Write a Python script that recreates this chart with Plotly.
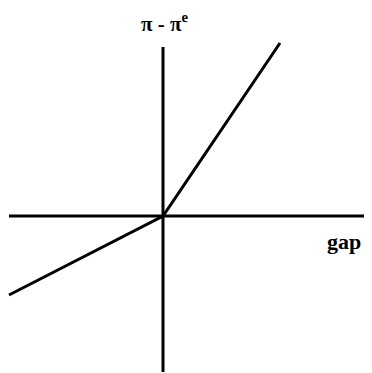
import plotly.graph_objects as go

# Kinked Phillips-type relation: inflation surprise vs output gap
gap = [-154, 0, 117]
pi_surprise = [-79, 0, 173]

# Axis extents (conceptual axes drawn through origin)
h_axis_x = [-154, 203]
v_axis_y = [169, -156]

fig = go.Figure()
fig.add_trace(go.Scatter(x=h_axis_x, y=[0, 0], mode="lines",
                         line=dict(color="black", width=3), hoverinfo="skip"))
fig.add_trace(go.Scatter(x=[0, 0], y=v_axis_y, mode="lines",
                         line=dict(color="black", width=3), hoverinfo="skip"))
fig.add_trace(go.Scatter(x=gap, y=pi_surprise, mode="lines",
                         line=dict(color="black", width=3)))

fig.add_annotation(x=2, y=194, text="<b>π - π<sup>e</sup></b>", showarrow=False,
                   font=dict(family="Liberation Serif", size=21, color="black"))
fig.add_annotation(x=181, y=-25, text="<b>gap</b>", showarrow=False,
                   font=dict(family="Liberation Serif", size=22, color="black"))

# page body has an 8px margin, so the figure covers window pixels 8..372
fig.update_layout(
    width=364, height=365,
    margin=dict(l=0, r=0, t=0, b=0),
    paper_bgcolor="white", plot_bgcolor="white",
    showlegend=False,
    xaxis=dict(range=[-155, 209], visible=False, fixedrange=True),
    yaxis=dict(range=[-157, 208], visible=False, fixedrange=True),
)
fig.write_html("out.html", config={"displayModeBar": False})
